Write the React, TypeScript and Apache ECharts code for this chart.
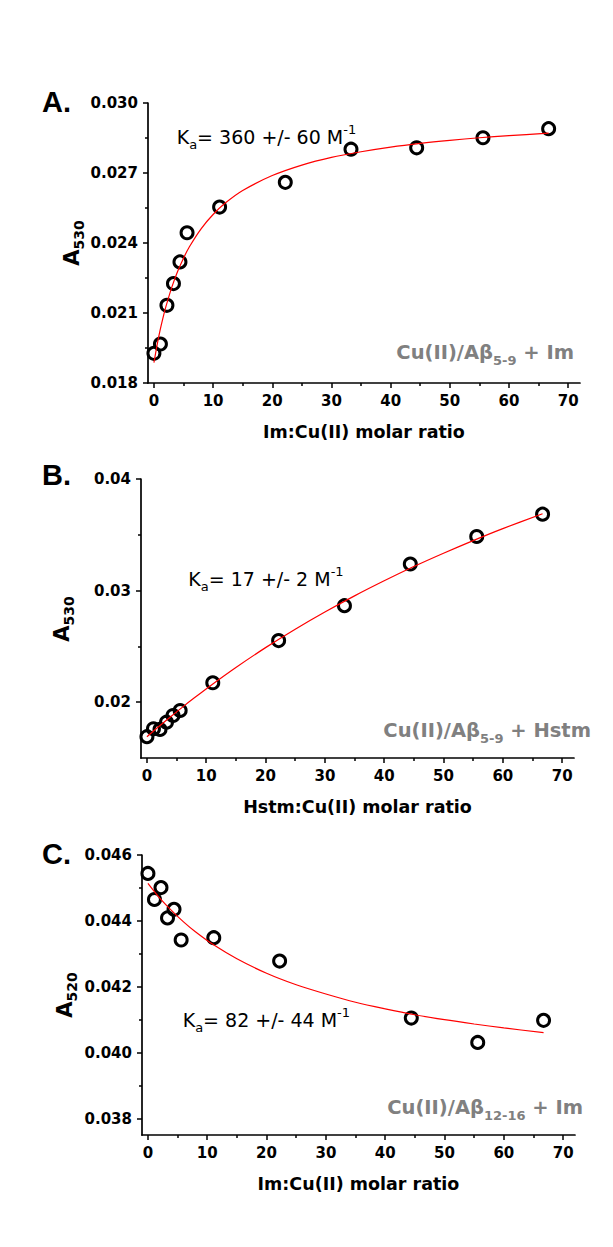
import React, { useEffect, useRef } from 'react';
import * as echarts from 'echarts';

// ---- data ----
const ratioAB = [0, 1.1, 2.2, 3.3, 4.4, 5.6, 11.1, 22.2, 33.3, 44.4, 55.6, 66.7];
const absA = [0.01927, 0.01967, 0.02133, 0.02226, 0.02319, 0.02444, 0.02554, 0.0266, 0.02802, 0.02808, 0.02851, 0.0289];
const absB = [0.01691, 0.01762, 0.01756, 0.01821, 0.01881, 0.01926, 0.02174, 0.02552, 0.02865, 0.03238, 0.03485, 0.03685];
const ratioC = [0, 1.1, 2.2, 3.3, 4.4, 5.6, 11.1, 22.2, 44.4, 55.6, 66.7];
const absC = [0.04544, 0.04465, 0.04501, 0.04409, 0.04435, 0.04342, 0.04349, 0.04278, 0.04105, 0.04031, 0.04098];

// fitted curves
const fitXA = [0, 0.5, 1, 1.5, 2, 3, 4, 5, 6, 8, 10, 12, 15, 20, 25, 30, 35, 40, 45, 50, 55, 60, 66.7];
const fitA = [0.01887, 0.01958, 0.02021, 0.02076, 0.02125, 0.02209, 0.02278, 0.02335, 0.02384, 0.02462, 0.02522, 0.0257, 0.02625, 0.02689, 0.02734, 0.02767, 0.02791, 0.02811, 0.02827, 0.0284, 0.02851, 0.0286, 0.02871];
const fitXBC = [0, 2, 4, 6, 8, 11, 15, 20, 25, 30, 35, 40, 45, 50, 55, 60, 66.7];
const fitB = [0.0169, 0.01782, 0.0187, 0.01956, 0.02039, 0.02159, 0.02311, 0.02489, 0.02654, 0.02808, 0.02953, 0.03088, 0.03216, 0.03335, 0.03448, 0.03555, 0.03689];
const fitC = [0.04514, 0.04469, 0.04431, 0.04397, 0.04367, 0.04328, 0.04285, 0.04241, 0.04206, 0.04178, 0.04153, 0.04133, 0.04115, 0.041, 0.04087, 0.04075, 0.04061];

// ticks
const xTicks = [0, 10, 20, 30, 40, 50, 60, 70];
const xMinorTicks = [5, 15, 25, 35, 45, 55, 65];
const yTicksA = [0.018, 0.021, 0.024, 0.027, 0.03];
const yMinorA = [0.0195, 0.0225, 0.0255, 0.0285];
const yTicksB = [0.02, 0.03, 0.04];
const yMinorB = [0.025, 0.035];
const yTicksC = [0.038, 0.04, 0.042, 0.044, 0.046];
const yMinorC = [0.039, 0.041, 0.043, 0.045];

const xNames = ['Im:Cu(II) molar ratio', 'Hstm:Cu(II) molar ratio', 'Im:Cu(II) molar ratio'];
const panelLetters = ['A.', 'B.', 'C.'];
const yNameSubs = ['530', '530', '520'];
const kaTexts = ['360 +/- 60', '17 +/- 2', '82 +/- 44'];
const systemMain = ['Cu(II)/A\u03b2', 'Cu(II)/A\u03b2', 'Cu(II)/A\u03b2'];
const systemSub = ['5-9', '5-9', '12-16'];
const systemTail = [' + Im', ' + Hstm', ' + Im'];

const FONT = "'DejaVu Sans', sans-serif";

const pair = (xs: number[], ys: number[]) => xs.map((x, i) => [x, ys[i]]);

export default function App() {
  const ref = useRef<HTMLDivElement>(null);
  useEffect(() => {
    const chart = echarts.init(ref.current!, null, { renderer: 'svg' });

    const grids = [
      { left: 148, top: 103, width: 432, height: 280 },
      { left: 141, top: 479, width: 433, height: 279 },
      { left: 142, top: 855, width: 433, height: 280 },
    ];
    const yRanges = [[0.018, 0.03], [0.015, 0.04], [0.0375, 0.046]];
    const yMajor = [yTicksA, yTicksB, yTicksC];
    const yMinor = [yMinorA, yMinorB, yMinorC];
    const yDigits = [3, 2, 3];

    const axisLineStyle = { color: '#000', width: 1.7 };
    const tickLineStyle = { color: '#000', width: 1.5 };

    const xAxis: any[] = [];
    const yAxis: any[] = [];
    for (let g = 0; g < 3; g++) {
      xAxis.push({
        type: 'value', gridIndex: g, min: -1, max: 72, position: 'bottom',
        name: xNames[g], nameLocation: 'middle', nameGap: 40,
        nameTextStyle: { fontFamily: FONT, fontWeight: 'bold', fontSize: 17.5, color: '#000' },
        axisLine: { show: true, onZero: false, lineStyle: axisLineStyle },
        axisTick: { show: true, inside: false, length: 5, lineStyle: tickLineStyle, customValues: xTicks },
        axisLabel: { show: true, customValues: xTicks, margin: 10, fontFamily: FONT, fontWeight: 'bold', fontSize: 15, color: '#000', formatter: (v: number) => String(v) },
        splitLine: { show: false },
      });
      xAxis.push({
        type: 'value', gridIndex: g, min: -1, max: 72, position: 'bottom', offset: 0,
        axisLine: { show: false, onZero: false },
        axisTick: { show: true, inside: false, length: 3, lineStyle: tickLineStyle, customValues: xMinorTicks },
        axisLabel: { show: false },
        splitLine: { show: false },
      });
      const d = yDigits[g];
      yAxis.push({
        type: 'value', gridIndex: g, min: yRanges[g][0], max: yRanges[g][1], position: 'left',
        axisLine: { show: true, onZero: false, lineStyle: axisLineStyle },
        axisTick: { show: true, inside: false, length: 5, lineStyle: tickLineStyle, customValues: yMajor[g] },
        axisLabel: { show: true, customValues: yMajor[g], margin: 10, fontFamily: FONT, fontWeight: 'bold', fontSize: 15, color: '#000', formatter: (v: number) => v.toFixed(d) },
        splitLine: { show: false },
      });
      yAxis.push({
        type: 'value', gridIndex: g, min: yRanges[g][0], max: yRanges[g][1], position: 'left', offset: 0,
        axisLine: { show: false, onZero: false },
        axisTick: { show: true, inside: false, length: 3, lineStyle: tickLineStyle, customValues: yMinor[g] },
        axisLabel: { show: false },
        splitLine: { show: false },
      });
    }

    const fits = [pair(fitXA, fitA), pair(fitXBC, fitB), pair(fitXBC, fitC)];
    const pts = [pair(ratioAB, absA), pair(ratioAB, absB), pair(ratioC, absC)];
    const series: any[] = [];
    for (let g = 0; g < 3; g++) {
      series.push({
        type: 'scatter', xAxisIndex: g * 2, yAxisIndex: g * 2, data: pts[g],
        symbol: 'circle', symbolSize: 12, z: 2,
        itemStyle: { color: 'rgba(255,255,255,0)', borderColor: '#000', borderWidth: 3, opacity: 1 },
      });
      series.push({
        type: 'line', xAxisIndex: g * 2, yAxisIndex: g * 2, data: fits[g],
        showSymbol: false, symbol: 'none', smooth: 0.3, z: 3, silent: true,
        lineStyle: { color: '#ff0000', width: 1.2 },
      });
    }

    const letterPos = [[42, 101.5], [42, 474.5], [42, 853.5]];
    const yNamePos = [[72, 243], [62, 619], [65, 995]];
    const kaPos = [[176.7, 137], [188.3, 579], [182.7, 1020]];
    const sysPos = [[574, 352.5], [591, 730.5], [583, 1107.5]];

    const graphic: any[] = [];
    for (let g = 0; g < 3; g++) {
      graphic.push({
        type: 'text', x: letterPos[g][0], y: letterPos[g][1],
        style: { text: panelLetters[g], fontFamily: "'Liberation Sans', Arial, sans-serif", fontWeight: 'bold', fontSize: 29, fill: '#000', align: 'left', verticalAlign: 'middle', textAlign: 'left', textVerticalAlign: 'middle' },
      });
      graphic.push({
        type: 'text', x: yNamePos[g][0], y: yNamePos[g][1], rotation: Math.PI / 2,
        style: {
          text: `{m|A}{s|${yNameSubs[g]}}`,
          align: 'center', verticalAlign: 'middle', textAlign: 'center', textVerticalAlign: 'middle',
          rich: {
            m: { fontFamily: FONT, fontWeight: 'bold', fontSize: 21, lineHeight: 27, fill: '#000' },
            s: { fontFamily: FONT, fontWeight: 'bold', fontSize: 14, verticalAlign: 'bottom', fill: '#000' },
          },
        },
      });
      graphic.push({
        type: 'text', x: kaPos[g][0], y: kaPos[g][1],
        style: {
          text: `{m|K}{s|a}{m|= ${kaTexts[g]} M}{p|-1}`,
          align: 'left', verticalAlign: 'middle', textAlign: 'left', textVerticalAlign: 'middle',
          rich: {
            m: { fontFamily: FONT, fontSize: 19, lineHeight: 28, fill: '#000' },
            s: { fontFamily: FONT, fontSize: 13, verticalAlign: 'bottom', fill: '#000' },
            p: { fontFamily: FONT, fontSize: 13, verticalAlign: 'top', fill: '#000' },
          },
        },
      });
      graphic.push({
        type: 'text', x: sysPos[g][0], y: sysPos[g][1],
        style: {
          text: `{m|${systemMain[g]}}{s|${systemSub[g]}}{m|${systemTail[g]}}`,
          align: 'right', verticalAlign: 'middle', textAlign: 'right', textVerticalAlign: 'middle',
          rich: {
            m: { fontFamily: FONT, fontWeight: 'bold', fontSize: 19.5, lineHeight: 28, fill: '#808080' },
            s: { fontFamily: FONT, fontWeight: 'bold', fontSize: 13, verticalAlign: 'bottom', fill: '#808080' },
          },
        },
      });
    }

    chart.setOption({
      animation: false,
      backgroundColor: '#ffffff',
      grid: grids,
      xAxis,
      yAxis,
      series,
      graphic,
    });
    return () => chart.dispose();
  }, []);

  return (
    <div
      ref={ref}
      style={{ position: 'absolute', left: 0, top: 0, width: 613, height: 1247, background: '#fff' }}
    />
  );
}
